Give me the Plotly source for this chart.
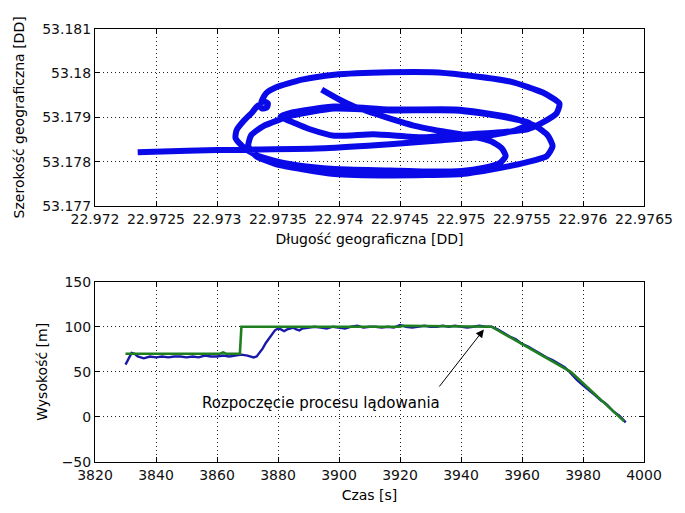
import plotly.graph_objects as go

# --- GPS track of the flight (decimal degrees) ---
lon = [
    22.973858, 22.974002, 22.974123, 22.974339, 22.974604, 22.974845, 22.975085,
    22.975246, 22.975334, 22.975366, 22.975318, 22.975182,
    22.975005, 22.974684, 22.974419, 22.973962, 22.973641, 22.973481, 22.973304,
    22.973208, 22.973152, 22.973160, 22.973216, 22.973288, 22.973336,
    22.973369, 22.973409, 22.973417, 22.973385, 22.973361,
    22.973401, 22.973481, 22.973697, 22.973962, 22.974419, 22.974764, 22.975005,
    22.975406, 22.975671, 22.975807, 22.975783, 22.975671, 22.975543,
    22.975326, 22.975005, 22.974684, 22.974283, 22.973962, 22.973762, 22.973641,
    22.973521,
    22.973617, 22.973962, 22.974419, 22.974949, 22.975166, 22.975406, 22.975615,
    22.975711, 22.975751, 22.975703, 22.975543, 22.975270,
    22.975005, 22.974419, 22.973962, 22.973481, 22.973320, 22.973256, 22.973280,
    22.973377,
    22.973617, 22.973962, 22.974419, 22.974949, 22.975166, 22.975406, 22.975567,
    22.975446, 22.975166, 22.974845, 22.974419, 22.973882, 22.973240, 22.972759,
    22.972350,
]
lat = [
    53.179626, 53.179403, 53.179246, 53.179045, 53.178821, 53.178687, 53.178575,
    53.178463, 53.178307, 53.178128, 53.177971, 53.177860,
    53.177792, 53.177781, 53.177804, 53.177836, 53.177926, 53.178015, 53.178172,
    53.178351, 53.178530, 53.178709, 53.178911, 53.179112, 53.179268,
    53.179201, 53.179224, 53.179313, 53.179358, 53.179336,
    53.179537, 53.179671, 53.179850, 53.179962, 53.180018, 53.180018, 53.179962,
    53.179805, 53.179559, 53.179313, 53.179090, 53.178888, 53.178732,
    53.178664, 53.178609, 53.178553, 53.178620, 53.178586, 53.178732, 53.178866,
    53.179022,
    53.179112, 53.179246, 53.179179, 53.179179, 53.179112, 53.179000, 53.178799,
    53.178597, 53.178351, 53.178128, 53.177993, 53.177837,
    53.177725, 53.177692, 53.177725, 53.177949, 53.178128, 53.178351, 53.178597,
    53.178799,
    53.179045, 53.179201, 53.179157, 53.179157, 53.179090, 53.178978, 53.178866,
    53.178709, 53.178564, 53.178485, 53.178396, 53.178307, 53.178273, 53.178251,
    53.178217,
]

# --- measured altitude ---
t_meas = [
    3830, 3831, 3832, 3833, 3834, 3835, 3836, 3838, 3840, 3842, 3844, 3846, 3848,
    3850, 3852, 3854, 3856, 3858, 3860, 3862, 3864, 3866, 3868, 3870, 3872, 3873,
    3874, 3875, 3876, 3877, 3878, 3879, 3880, 3881, 3882, 3883, 3884, 3885, 3886,
    3887, 3888, 3890, 3892, 3894, 3896, 3898, 3900, 3902, 3904, 3906, 3908, 3910,
    3912, 3914, 3916, 3918, 3920, 3922, 3924, 3926, 3928, 3930, 3932, 3934, 3936,
    3938, 3940, 3942, 3944, 3946, 3948, 3950, 3952, 3954, 3956, 3958, 3960, 3962,
    3964, 3966, 3968, 3970, 3972, 3974, 3975, 3976, 3977, 3978, 3980, 3982, 3984,
    3986, 3987, 3988, 3990, 3992, 3993, 3994,
]
h_meas = [
    58, 65, 71, 70, 67, 66, 65, 67, 66, 67, 66, 67, 67,
    66, 67, 66, 68, 67, 67, 68, 67, 68, 69, 68, 66, 67,
    71, 76, 82, 87, 92, 96, 98, 97, 95, 97, 98, 99, 97,
    96, 98, 99, 100, 99, 98, 100, 99, 98, 100, 101, 99, 100,
    100, 99, 100, 99, 102, 100, 99, 100, 101, 100, 100, 101, 100,
    101, 100, 99, 100, 101, 100, 100, 97, 93, 89, 86, 81, 78,
    74, 70, 66, 63, 59, 55, 52, 48, 44, 41, 35, 30, 24,
    18, 16, 13, 6, 1, -3, -6,
]

# --- commanded altitude ---
t_cmd = [3830, 3861, 3862, 3863, 3867.5, 3868, 3920, 3921, 3950, 3976, 3993.5]
h_cmd = [70, 70, 71.5, 70, 70, 100, 100, 101, 100, 50, -5]

lon_ticks = [22.972, 22.9725, 22.973, 22.9735, 22.974, 22.9745, 22.975,
             22.9755, 22.976, 22.9765]
lon_labels = ["22.972", "22.9725", "22.973", "22.9735", "22.974", "22.9745",
              "22.975", "22.9755", "22.976", "22.9765"]
lat_ticks = [53.177, 53.178, 53.179, 53.18, 53.181]
lat_labels = ["53.177", "53.178", "53.179", "53.18", "53.181"]
time_ticks = [3820, 3840, 3860, 3880, 3900, 3920, 3940, 3960, 3980, 4000]
alt_ticks = [-50, 0, 50, 100, 150]

annot_text = "Rozpoczęcie procesu lądowania"

FONT = "DejaVu Sans"
BLACK = "#000000"

fig = go.Figure()

fig.add_trace(go.Scatter(
    x=lon, y=lat, mode="lines",
    line=dict(color="#0a0ae8", width=6, shape="spline", smoothing=0.55),
    xaxis="x", yaxis="y", showlegend=False, hoverinfo="skip",
))
fig.add_trace(go.Scatter(
    x=t_meas, y=h_meas, mode="lines",
    line=dict(color="#1a1aa8", width=2.4),
    xaxis="x2", yaxis="y2", showlegend=False, hoverinfo="skip",
))
fig.add_trace(go.Scatter(
    x=t_cmd, y=h_cmd, mode="lines",
    line=dict(color="#1f7f1f", width=2.6),
    xaxis="x2", yaxis="y2", showlegend=False, hoverinfo="skip",
))

axis_common = dict(
    showline=True, linecolor=BLACK, linewidth=1, mirror="all",
    ticks="inside", ticklen=5, tickcolor=BLACK, tickwidth=1,
    showgrid=True, gridcolor="#222222", gridwidth=1, griddash="1px,3px",
    zeroline=False, tickfont=dict(family=FONT, size=14, color="#111111"),
    fixedrange=True,
)

fig.update_layout(
    width=685, height=513,
    margin=dict(l=95, r=29, t=28, b=48),
    paper_bgcolor="white", plot_bgcolor="white",
    font=dict(family=FONT, size=14, color=BLACK),
    xaxis=dict(
        **axis_common, domain=[0, 1], anchor="y",
        range=[22.972, 22.9765], tickvals=lon_ticks, ticktext=lon_labels,
        title=dict(text="Długość geograficzna [DD]", standoff=8,
                   font=dict(family=FONT, size=14)),
    ),
    yaxis=dict(
        **axis_common, domain=[0.5895, 0.9986], anchor="x",
        range=[53.177, 53.181], tickvals=lat_ticks, ticktext=lat_labels,
        title=dict(text="Szerokość geograficzna [DD]", standoff=14,
                   font=dict(family=FONT, size=14)),
    ),
    xaxis2=dict(
        **axis_common, domain=[0, 1], anchor="y2",
        range=[3820, 4000], tickvals=time_ticks,
        title=dict(text="Czas [s]", standoff=8, font=dict(family=FONT, size=14)),
    ),
    yaxis2=dict(
        **axis_common, domain=[0, 0.4156], anchor="x2",
        range=[-50, 150], tickvals=alt_ticks,
        title=dict(text="Wysokość [m]", standoff=10,
                   font=dict(family=FONT, size=14)),
    ),
)

# Label for the start of the landing phase, with its pointer
fig.add_annotation(
    x=3894, y=15, xref="x2", yref="y2", text=annot_text, showarrow=False,
    font=dict(family=FONT, size=15, color=BLACK),
)
fig.add_annotation(
    x=3947.5, y=97, xref="x2", yref="y2", ax=3932.5, ay=32,
    axref="x2", ayref="y2", text="", showarrow=True,
    arrowhead=2, arrowsize=1.6, arrowwidth=1, arrowcolor=BLACK,
)

fig.write_html("out.html")
